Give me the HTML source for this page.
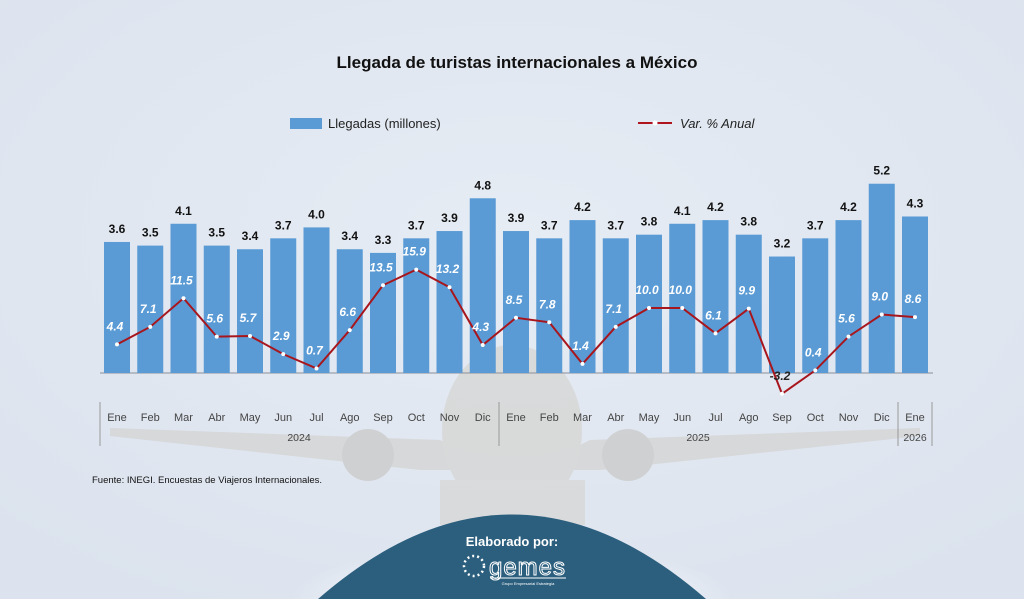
<!DOCTYPE html>
<html><head><meta charset="utf-8"><style>
html,body{margin:0;width:1024px;height:599px;overflow:hidden;background:#e2e8f1;font-family:"Liberation Sans",sans-serif}
svg{display:block}
</style></head><body>
<svg width="1024" height="599" xmlns="http://www.w3.org/2000/svg">
<defs>
<radialGradient id="bg" cx="50%" cy="40%" r="70%"><stop offset="0" stop-color="#e6ecf4"/><stop offset="1" stop-color="#dce3ee"/></radialGradient>
<radialGradient id="gl" cx="50%" cy="100%" r="50%"><stop offset="0.6" stop-color="#fff" stop-opacity="0.5"/><stop offset="1" stop-color="#fff" stop-opacity="0"/></radialGradient>
</defs>
<rect width="1024" height="599" fill="url(#bg)"/>
<g opacity="0.4">
<path d="M110 428 L440 440 L470 455 L560 455 L590 440 L920 428 L920 436 L600 470 L420 470 L110 436 Z" fill="#c9c4b8"/>
<ellipse cx="512" cy="430" rx="70" ry="85" fill="#cbc6ba"/>
<circle cx="368" cy="455" r="26" fill="#b5b0a5"/>
<circle cx="628" cy="455" r="26" fill="#b5b0a5"/>
<rect x="440" y="480" width="145" height="45" fill="#cfcabf"/>
</g>
<rect x="290" y="490" width="444" height="109" fill="url(#gl)"/>
<path d="M318 599 Q512 430 706 599 Z" fill="#2c5f7e"/>
<text x="512" y="546" text-anchor="middle" font-size="13" font-weight="bold" fill="#fff">Elaborado por:</text>
<circle cx="474" cy="566" r="10" fill="none" stroke="#fff" stroke-width="2.5" stroke-dasharray="2 3"/>
<text x="489" y="575" font-size="24" fill="none" stroke="#fff" stroke-width="1" textLength="76">gemes</text>
<line x1="490" y1="578" x2="566" y2="578" stroke="#fff" stroke-width="1"/>
<text x="528" y="585" text-anchor="middle" font-size="4" fill="#fff">Grupo Empresarial Estrategia</text>

<text x="517" y="68" text-anchor="middle" font-size="17" font-weight="bold" fill="#111">Llegada de turistas internacionales a México</text>
<rect x="290" y="118" width="32" height="11" fill="#5b9bd5"/>
<text x="328" y="128" font-size="13" fill="#222">Llegadas (millones)</text>
<line x1="638" y1="123" x2="672" y2="123" stroke="#b0141c" stroke-width="2"/>
<circle cx="655" cy="123" r="2.5" fill="#fff"/>
<text x="680" y="128" font-size="13" font-style="italic" fill="#222">Var. % Anual</text>

<line x1="100" y1="373" x2="933" y2="373" stroke="#8a8f99" stroke-width="1"/>
<g id="chart"></g>
<text x="92" y="483" font-size="9.5" fill="#111">Fuente: INEGI. Encuestas de Viajeros Internacionales.</text>
</svg>
<script>
const b=[3.6,3.5,4.1,3.5,3.4,3.7,4.0,3.4,3.3,3.7,3.9,4.8,3.9,3.7,4.2,3.7,3.8,4.1,4.2,3.8,3.2,3.7,4.2,5.2,4.3];
const v=[4.4,7.1,11.5,5.6,5.7,2.9,0.7,6.6,13.5,15.9,13.2,4.3,8.5,7.8,1.4,7.1,10.0,10.0,6.1,9.9,-3.2,0.4,5.6,9.0,8.6];
const m=["Ene","Feb","Mar","Abr","May","Jun","Jul","Ago","Sep","Oct","Nov","Dic","Ene","Feb","Mar","Abr","May","Jun","Jul","Ago","Sep","Oct","Nov","Dic","Ene"];
let s="";const K=36.4,cx=i=>117+i*33.25,yb=x=>373-x*K,yl=x=>373-x*6.5;
b.forEach((x,i)=>{s+=`<rect x="${cx(i)-13}" y="${yb(x)}" width="26" height="${x*K}" fill="#5b9bd5"/>`;
s+=`<text x="${cx(i)}" y="${yb(x)-9}" text-anchor="middle" font-size="12" font-weight="bold" fill="#111">${x.toFixed(1)}</text>`;
s+=`<text x="${cx(i)}" y="421" text-anchor="middle" font-size="11" fill="#444">${m[i]}</text>`;});
s+=`<polyline points="${v.map((x,i)=>cx(i)+','+yl(x)).join(' ')}" fill="none" stroke="#a8161d" stroke-width="2"/>`;
v.forEach((x,i)=>{s+=`<circle cx="${cx(i)}" cy="${yl(x)}" r="2" fill="#fff"/>`;
s+=`<text x="${cx(i)-2}" y="${yl(x)-14}" text-anchor="middle" font-size="12" font-weight="bold" font-style="italic" fill="${x<0?'#222':'#fff'}">${x.toFixed(1)}</text>`;});
[100,499,898,932].forEach(x=>s+=`<line x1="${x}" y1="402" x2="${x}" y2="446" stroke="#999"/>`);
s+=`<text x="299" y="441" text-anchor="middle" font-size="10.5" fill="#444">2024</text><text x="698" y="441" text-anchor="middle" font-size="10.5" fill="#444">2025</text><text x="915" y="441" text-anchor="middle" font-size="10.5" fill="#444">2026</text>`;
document.getElementById("chart").innerHTML=s;
</script>
</body></html>
